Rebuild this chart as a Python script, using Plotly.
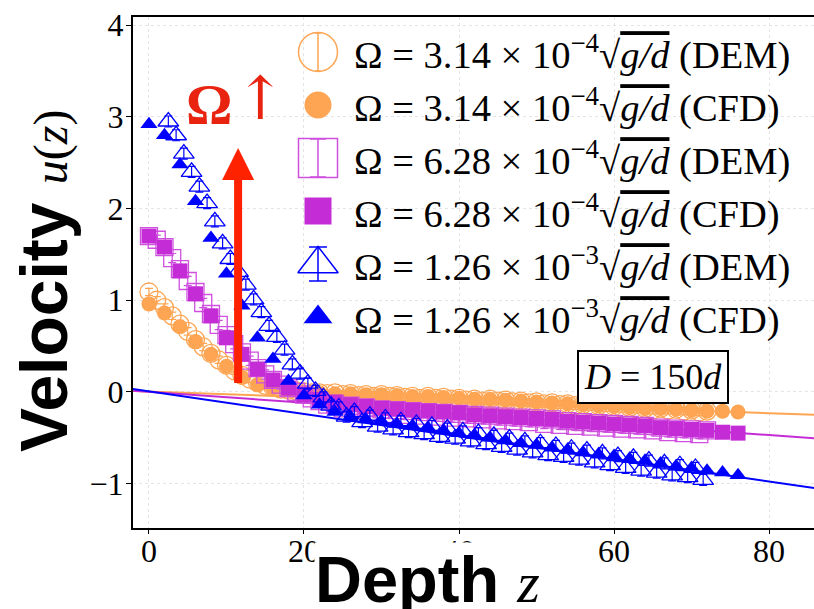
import plotly.graph_objects as go

# ---------------- data ----------------
depth_cfd = list(range(0, 77, 2))
depth_dem = list(range(0, 73))
depth_dem_blue = [2.5 + i for i in range(70)]

orange_cfd = [0.96, 0.86, 0.71, 0.55, 0.41, 0.28, 0.16, 0.08, 0.04, 0.02,
              0.00, -0.01, -0.02, -0.02, -0.03, -0.03, -0.04, -0.05, -0.05, -0.06,
              -0.07, -0.08, -0.08, -0.09, -0.10, -0.11, -0.12, -0.13, -0.14, -0.15,
              -0.16, -0.17, -0.18, -0.18, -0.19, -0.20, -0.21, -0.21, -0.22]
purple_cfd = [1.70, 1.58, 1.32, 1.07, 0.83, 0.59, 0.41, 0.25, 0.13, 0.04,
              -0.03, -0.08, -0.11, -0.14, -0.16, -0.18, -0.19, -0.20, -0.21, -0.22,
              -0.23, -0.25, -0.26, -0.27, -0.28, -0.29, -0.30, -0.32, -0.33, -0.34,
              -0.35, -0.36, -0.37, -0.39, -0.40, -0.41, -0.42, -0.44, -0.45]
blue_cfd = [2.92, 2.80, 2.48, 2.08, 1.68, 1.29, 0.94, 0.59, 0.36, 0.12,
            -0.04, -0.14, -0.22, -0.27, -0.30, -0.32, -0.35, -0.37, -0.39, -0.42,
            -0.45, -0.47, -0.50, -0.53, -0.56, -0.58, -0.61, -0.63, -0.66, -0.68,
            -0.70, -0.73, -0.75, -0.78, -0.81, -0.83, -0.86, -0.88, -0.91]

orange_dem = [1.09, 1.00, 0.92, 0.83, 0.74, 0.66, 0.57, 0.49, 0.42, 0.35,
              0.29, 0.23, 0.18, 0.14, 0.10, 0.07, 0.05, 0.03, 0.02, 0.01,
              0.00, -0.01, -0.01, -0.02, -0.01, -0.03, -0.02, -0.04, -0.03, -0.05,
              -0.03, -0.05, -0.04, -0.06, -0.05, -0.07, -0.05, -0.07, -0.06, -0.08,
              -0.07, -0.09, -0.08, -0.10, -0.08, -0.10, -0.09, -0.11, -0.10, -0.12,
              -0.11, -0.13, -0.12, -0.14, -0.13, -0.15, -0.14, -0.16, -0.15, -0.17,
              -0.16, -0.18, -0.17, -0.19, -0.18, -0.20, -0.18, -0.20, -0.19, -0.21,
              -0.20, -0.22, -0.21]
purple_dem = [1.70, 1.66, 1.58, 1.46, 1.34, 1.21, 1.09, 0.97, 0.85, 0.73,
              0.62, 0.52, 0.43, 0.34, 0.26, 0.19, 0.13, 0.08, 0.04, 0.00,
              -0.03, -0.07, -0.10, -0.14, -0.13, -0.18, -0.15, -0.20, -0.17, -0.22,
              -0.19, -0.24, -0.20, -0.25, -0.21, -0.26, -0.22, -0.27, -0.23, -0.28,
              -0.24, -0.29, -0.25, -0.30, -0.26, -0.31, -0.27, -0.32, -0.28, -0.33,
              -0.29, -0.35, -0.30, -0.36, -0.32, -0.37, -0.33, -0.38, -0.34, -0.39,
              -0.35, -0.40, -0.36, -0.41, -0.37, -0.42, -0.39, -0.44, -0.40, -0.45,
              -0.41, -0.46, -0.42]
blue_dem = [2.95, 2.80, 2.60, 2.40, 2.24, 2.06, 1.86, 1.62, 1.45, 1.31,
            1.17, 1.01, 0.87, 0.72, 0.60, 0.46, 0.30, 0.20, 0.09, 0.01,
            -0.06, -0.15, -0.17, -0.27, -0.22, -0.33, -0.26, -0.38, -0.29, -0.41,
            -0.32, -0.44, -0.35, -0.46, -0.37, -0.49, -0.40, -0.51, -0.43, -0.54,
            -0.45, -0.57, -0.48, -0.60, -0.51, -0.63, -0.54, -0.66, -0.56, -0.69,
            -0.59, -0.71, -0.62, -0.74, -0.64, -0.77, -0.67, -0.80, -0.70, -0.83,
            -0.72, -0.86, -0.75, -0.88, -0.78, -0.91, -0.80, -0.93, -0.83, -0.96]

orange_err, purple_err, blue_err = 0.04, 0.05, 0.06

fit_x = [-3, 90]
orange_fit = [0.013, -0.262]
purple_fit = [0.018, -0.530]
blue_fit = [0.042, -1.100]

omega_coef = ["3.14", "3.14", "6.28", "6.28", "1.26", "1.26"]
omega_exp = ["−4", "−4", "−4", "−4", "−3", "−3"]
method = ["DEM", "CFD", "DEM", "CFD", "DEM", "CFD"]

x_ticks = [0, 20, 40, 60, 80]
y_ticks = [-1, 0, 1, 2, 3, 4]

# ---------------- styles ----------------
ORANGE = "#FDA553"
PURPLE = "#C42CD6"
PURPLE_OPEN = "#CF4FDF"
BLUE = "#0000FF"
SERIF = "Liberation Serif"
SANS = "Liberation Sans"

fig = go.Figure()

for fy, col in [(orange_fit, ORANGE), (purple_fit, PURPLE), (blue_fit, BLUE)]:
    fig.add_trace(go.Scatter(x=fit_x, y=fy, mode="lines",
                             line=dict(color=col, width=2), showlegend=False,
                             hoverinfo="skip"))

def dem_trace(x, y, col, sym, size, err):
    return go.Scatter(x=x, y=y, mode="markers",
                      marker=dict(symbol=sym, size=size, color=col,
                                  line=dict(color=col, width=1.3)),
                      error_y=dict(type="constant", value=err, color=col,
                                   thickness=1.2, width=4),
                      showlegend=False)

def cfd_trace(x, y, col, sym, size):
    return go.Scatter(x=x, y=y, mode="markers",
                      marker=dict(symbol=sym, size=size, color=col,
                                  line=dict(width=0)),
                      showlegend=False)

fig.add_trace(dem_trace(depth_dem, orange_dem, ORANGE, "circle-open", 18, orange_err))
fig.add_trace(cfd_trace(depth_cfd, orange_cfd, ORANGE, "circle", 15))
fig.add_trace(dem_trace(depth_dem, purple_dem, PURPLE_OPEN, "square-open", 17, purple_err))
fig.add_trace(cfd_trace(depth_cfd, purple_cfd, PURPLE, "square", 15))
fig.add_trace(dem_trace(depth_dem_blue, blue_dem, BLUE, "triangle-up-open", 18, blue_err))
fig.add_trace(cfd_trace(depth_cfd, blue_cfd, BLUE, "triangle-up", 15))

# ---------------- manual legend (pixel overlay axes) ----------------
leg_syms = ["circle-open", "circle", "square-open", "square", "triangle-up-open", "triangle-up"]
leg_cols = [ORANGE, ORANGE, PURPLE_OPEN, PURPLE, BLUE, BLUE]
leg_sizes = [39, 27, 39, 27, 35, 25]
leg_err = [19, 0, 19, 0, 17, 0]
leg_capw = [3, 0, 8, 0, 9, 0]
leg_x0, leg_y0, leg_dy = 318, 52, 53
annotations = []
for i in range(6):
    yy = leg_y0 + leg_dy * i
    tr = go.Scatter(x=[leg_x0], y=[yy], mode="markers", xaxis="x2", yaxis="y2",
                    marker=dict(symbol=leg_syms[i], size=leg_sizes[i], color=leg_cols[i],
                                line=dict(color=leg_cols[i], width=1.5 if "open" in leg_syms[i] else 0)),
                    showlegend=False, hoverinfo="skip")
    if leg_err[i]:
        tr.error_y = dict(type="constant", value=leg_err[i], color=leg_cols[i],
                          thickness=1.5, width=leg_capw[i])
    fig.add_trace(tr)
    txt = ("Ω = %s × 10<sup>%s</sup>√<span style='text-decoration:overline;font-style:italic'>"
           "g/d</span> (%s)") % (omega_coef[i], omega_exp[i], method[i])
    annotations.append(dict(x=352, y=yy, xref="x2", yref="y2", text=txt,
                            showarrow=False, xanchor="left", yanchor="middle",
                            font=dict(family=SERIF, size=38.5, color="black")))

# axis titles (paper coordinates: plot area is 133..814 px wide, 17..528 px tall)
annotations.append(dict(
    x=(44 - 133) / 681, y=(528 - 281) / 511, xref="paper", yref="paper",
    xanchor="center", yanchor="middle", textangle=-90, showarrow=False,
    text=("<span style='font-family:Liberation Sans;font-weight:bold'>Velocity</span> "
          "<span style='font-family:Liberation Serif;font-size:48px'><i>u</i>(<i>z</i>)</span>"),
    font=dict(family=SANS, size=66, color="black")))
annotations.append(dict(
    x=(427 - 133) / 681, y=(528 - 579) / 511, xref="paper", yref="paper",
    xanchor="center", yanchor="middle", showarrow=False, bgcolor="white",
    borderpad=0,
    text=("<span style='font-family:Liberation Sans;font-weight:bold'>Depth</span> "
          "<span style='font-family:Liberation Serif;font-size:58px'><i>z</i></span>"),
    font=dict(family=SANS, size=65, color="black")))

# D = 150d box
annotations.append(dict(
    x=65.0, y=0.16, xref="x", yref="y", showarrow=False,
    text="<i>D</i> = 150<i>d</i>", bgcolor="white", bordercolor="black",
    borderwidth=2, borderpad=5, font=dict(family=SERIF, size=36, color="black")))

# red arrow + label
annotations.append(dict(
    x=11.5, y=2.66, ax=11.5, ay=0.08, xref="x", yref="y", axref="x", ayref="y",
    text="", showarrow=True, arrowhead=2, arrowsize=0.8, arrowwidth=8,
    arrowcolor="#FF2200", standoff=0))
annotations.append(dict(
    x=(209 - 149) / 7.74, y=(390 - 98) / 93, xref="x", yref="y", showarrow=False,
    text="<b>Ω</b>", font=dict(family=SERIF, size=58, color="#E8230F")))
annotations.append(dict(
    x=(260 - 149) / 7.74, y=(390 - 92) / 93, xref="x", yref="y", showarrow=False,
    text="↑", font=dict(family="DejaVu Serif", size=60, color="#E8230F")))

fig.update_layout(
    width=814, height=609,
    margin=dict(l=133, r=0, t=17, b=81),
    paper_bgcolor="white", plot_bgcolor="white",
    showlegend=False,
    annotations=annotations,
    xaxis=dict(range=[-2.06, 85.8], tickvals=x_ticks, ticks="outside", ticklen=4,
               tickcolor="black", showline=True, linecolor="black", linewidth=2,
               mirror=True, showgrid=True, gridcolor="#E4E4E4", griddash="dot",
               zeroline=False, ticklabelstandoff=-10,
               tickfont=dict(family=SERIF, size=32, color="black")),
    yaxis=dict(range=[-1.485, 4.09], tickvals=y_ticks, ticks="outside", ticklen=5,
               tickcolor="black", showline=True, linecolor="black", linewidth=2,
               showgrid=True, gridcolor="#E4E4E4", griddash="dot",
               zeroline=False, ticklabelstandoff=-4,
               tickfont=dict(family=SERIF, size=32, color="black")),
    xaxis2=dict(overlaying="x", anchor="y2", range=[133, 814], visible=False),
    yaxis2=dict(overlaying="y", anchor="x2", range=[528, 17], visible=False),
)

fig.write_html("out.html")
